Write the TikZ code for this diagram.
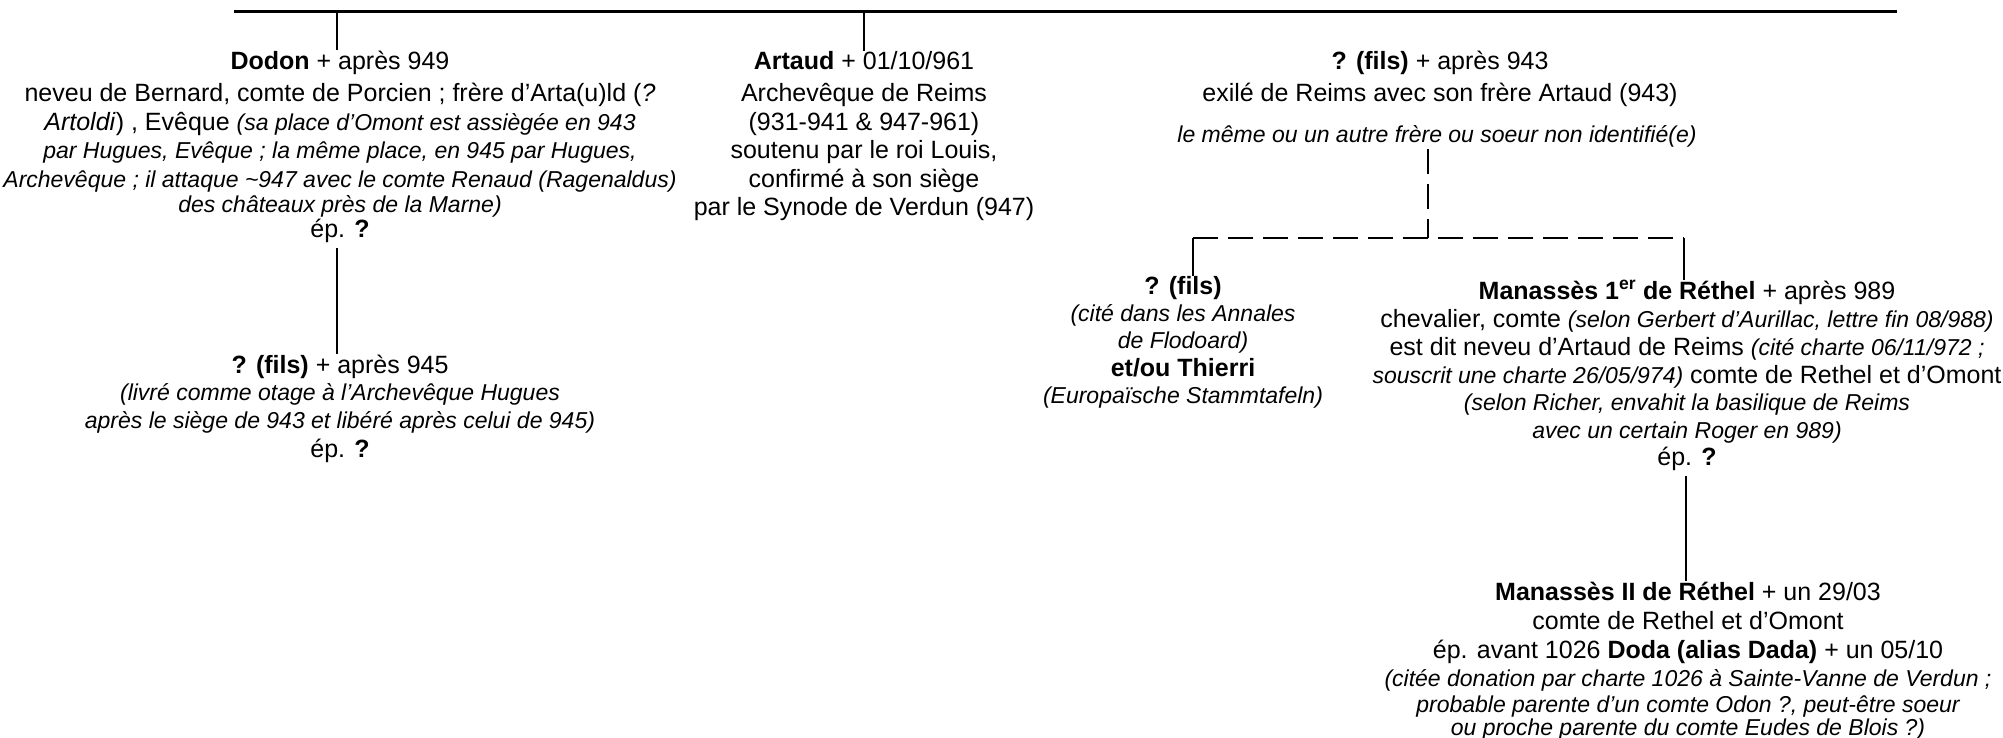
\documentclass[tikz,border=0pt]{standalone}
\usepackage{fontspec}
\setmainfont{Liberation Sans}
\newcommand\rgsz{\fontsize{25}{28.75}\selectfont}
\newcommand\itsm[1]{{\fontsize{23}{26}\selectfont\itshape #1}}
\begin{document}
\begin{tikzpicture}[x=1pt,y=-1pt,
  ln/.style={anchor=base,inner sep=0pt,font=\rgsz},
  rel/.style={line width=2.5pt},
  dsh/.style={line width=2.5pt,dash pattern=on 25pt off 10pt}]
\useasboundingbox (0,0) rectangle (2003,737);
% Dodon
\node[ln] (d1) at (340,69) {\textbf{Dodon} + après 949};
\node[ln] (d2) at (340,101.5) {neveu de Bernard, comte de Porcien ; frère d’Arta(u)ld (\textit{?}};
\node[ln] (d3) at (340,130) {\textit{Artoldi}) , Evêque \itsm{(sa place d’Omont est assiègée en 943}};
\node[ln] (d4) at (340,158.5) {\itsm{par Hugues, Evêque ; la même place, en 945 par Hugues,}};
\node[ln] (d5) at (340,187) {\itsm{Archevêque ; il attaque \textasciitilde947 avec le comte Renaud (Ragenaldus)}};
\node[ln] (d6) at (340,212.5) {\itsm{des châteaux près de la Marne)}};
\node[ln] (d7) at (340,237) {ép. \textbf{?}};
% Artaud
\node[ln] (a1) at (864,69) {\textbf{Artaud} + 01/10/961};
\node[ln] (a2) at (864,101.5) {Archevêque de Reims};
\node[ln] (a3) at (864,130) {(931-941 \& 947-961)};
\node[ln] (a4) at (864,158.5) {soutenu par le roi Louis,};
\node[ln] (a5) at (864,187) {confirmé à son siège};
\node[ln] (a6) at (864,215.5) {par le Synode de Verdun (947)};
% right top
\node[ln] (r1) at (1440,69) {\textbf{? (fils)} + après 943};
\node[ln] (r2) at (1440,101.5) {exilé de Reims avec son frère Artaud (943)};
\node[ln] (r3) at (1437,142) {\itsm{le même ou un autre frère ou soeur non identifié(e)}};
% Dodon child
\node[ln] (f1) at (340,373) {\textbf{? (fils)} + après 945};
\node[ln] (f2) at (340,400.5) {\itsm{(livré comme otage à l’Archevêque Hugues}};
\node[ln] (f3) at (340,428.5) {\itsm{après le siège de 943 et libéré après celui de 945)}};
\node[ln] (f4) at (340,457) {ép. \textbf{?}};
% left child
\node[ln] (c1) at (1183,294) {\textbf{? (fils)}};
\node[ln] (c2) at (1183,321) {\itsm{(cité dans les Annales}};
\node[ln] (c3) at (1183,348) {\itsm{de Flodoard)}};
\node[ln] (c4) at (1183,376) {\textbf{et/ou Thierri}};
\node[ln] (c5) at (1183,403) {\itsm{(Europaïsche Stammtafeln)}};
% Manasses 1er
\node[ln] (m1) at (1687,299) {\textbf{Manassès 1\textsuperscript{er} de Réthel} + après 989};
\node[ln] (m2) at (1687,327) {chevalier, comte \itsm{(selon Gerbert d’Aurillac, lettre fin 08/988)}};
\node[ln] (m3) at (1687,355) {est dit neveu d’Artaud de Reims \itsm{(cité charte 06/11/972 ;}};
\node[ln] (m4) at (1687,383) {\itsm{souscrit une charte 26/05/974)} comte de Rethel et d’Omont};
\node[ln] (m5) at (1687,410) {\itsm{(selon Richer, envahit la basilique de Reims}};
\node[ln] (m6) at (1687,438) {\itsm{avec un certain Roger en 989)}};
\node[ln] (m7) at (1687,465) {ép. \textbf{?}};
% Manasses II
\node[ln] (n1) at (1688,600) {\textbf{Manassès II de Réthel} + un 29/03};
\node[ln] (n2) at (1688,629) {comte de Rethel et d’Omont};
\node[ln] (n3) at (1688,658) {ép. avant 1026 \textbf{Doda (alias Dada)} + un 05/10};
\node[ln] (n4) at (1688,686) {\itsm{(citée donation par charte 1026 à Sainte-Vanne de Verdun ;}};
\node[ln] (n5) at (1688,712) {\itsm{probable parente d’un comte Odon ?, peut-être soeur}};
\node[ln] (n6) at (1688,735.5) {\itsm{ou proche parente du comte Eudes de Blois ?)}};
% connectors
\coordinate (tl) at (234,11.5);
\coordinate (tr) at (1897,11.5);
\coordinate (tD) at (337,11.5);
\coordinate (tA) at (864,11.5);
\draw[rel] (tl) -- (tr);
\draw[rel] (tD) -- (tD |- d1.north);
\draw[rel] (tA) -- (tA |- a1.north);
\draw[rel] (tD |- d7.south) ++(0,6) -- (tD |- f1.north);
\coordinate (jm) at (1428,238);
\coordinate (jl) at (1193,238);
\coordinate (jr) at (1684,238);
\draw[dsh] (jm |- r3.south) ++(0,2) -- (jm);
\draw[dsh] (jl) -- (jr);
\draw[rel] (jl) -- (jl |- c1.north);
\draw[rel] (jr) -- (jr |- m1.north);
\coordinate (mx) at (1686,0);
\draw[rel] (mx |- m7.south) ++(0,6) -- (mx |- n1.north);
\end{tikzpicture}
\end{document}
